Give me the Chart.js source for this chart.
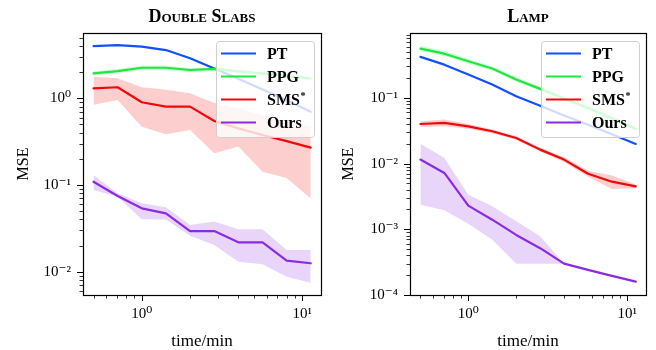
<!DOCTYPE html>
<html><head><meta charset="utf-8">
<script src="https://cdn.jsdelivr.net/npm/chart.js@4.4.1/dist/chart.umd.min.js"></script>
<style>
html,body{margin:0;padding:0;background:#fff;}
#wrap{position:relative;width:656px;height:350px;overflow:hidden;}
canvas{position:absolute;top:0;}
</style></head><body>
<div id="wrap">
<canvas id="c1" width="330" height="350" style="left:0px"></canvas>
<canvas id="c2" width="326" height="350" style="left:330px"></canvas>
</div>
<script>
// ---------- data ----------
const times = [0.5, 0.707, 1, 1.414, 2, 2.83, 4, 5.66, 8, 11.3];
const methods = ['PT', 'PPG', 'SMS*', 'Ours'];
const colors = ['#1050ff', '#1ee83e', '#ee0a0a', '#8a2be2'];
const titles = ['Double Slabs', 'Lamp'];
const xMajorTicks = [1, 10];
const slabsMajorTicks = [0.01, 0.1, 1];
const lampMajorTicks = [0.0001, 0.001, 0.01, 0.1];

// Double Slabs
const slabsPT        = [4.0, 4.1, 3.95, 3.6, 2.9, 2.2, 1.68, 1.26, 0.95, 0.70];
const slabsPPG       = [1.94, 2.06, 2.25, 2.25, 2.12, 2.18, 2.04, 1.93, 1.81, 1.69];
const slabsPPGUpper  = [2.05, 2.18, 2.38, 2.38, 2.24, 2.30, 2.15, 2.03, 1.90, 1.77];
const slabsPPGLower  = [1.84, 1.96, 2.13, 2.13, 2.01, 2.07, 1.94, 1.84, 1.73, 1.62];
const slabsSMS       = [1.30, 1.34, 0.90, 0.80, 0.80, 0.547, 0.449, 0.377, 0.32, 0.27];
const slabsSMSUpper  = [1.77, 1.70, 1.34, 1.25, 1.14, 0.88, 0.76, 0.64, 0.55, 0.47];
const slabsSMSLower  = [0.84, 0.955, 0.47, 0.385, 0.43, 0.232, 0.277, 0.142, 0.12, 0.070];
const slabsOurs      = [0.109, 0.0746, 0.0538, 0.0471, 0.0294, 0.0294, 0.0218, 0.0218, 0.0134, 0.0125];
const slabsOursUpper = [0.130, 0.080, 0.0615, 0.0553, 0.0346, 0.0378, 0.0308, 0.0308, 0.0178, 0.0178];
const slabsOursLower = [0.0875, 0.0733, 0.0402, 0.0400, 0.0260, 0.0203, 0.0130, 0.0122, 0.00875, 0.00746];

// Lamp
const lampPT        = [0.42, 0.32, 0.226, 0.16, 0.106, 0.076, 0.054, 0.039, 0.028, 0.0199];
const lampPPG       = [0.56, 0.47, 0.36, 0.28, 0.19, 0.137, 0.098, 0.070, 0.049, 0.0336];
const lampPPGUpper  = [0.62, 0.52, 0.39, 0.30, 0.205, 0.147, 0.106, 0.076, 0.053, 0.037];
const lampPPGLower  = [0.51, 0.43, 0.33, 0.26, 0.176, 0.128, 0.090, 0.064, 0.045, 0.031];
const lampSMS       = [0.040, 0.0416, 0.0369, 0.031, 0.0245, 0.0163, 0.0115, 0.0070, 0.0053, 0.0045];
const lampSMSUpper  = [0.044, 0.047, 0.040, 0.033, 0.026, 0.0175, 0.0125, 0.0078, 0.0066, 0.0048];
const lampSMSLower  = [0.036, 0.037, 0.034, 0.029, 0.023, 0.0152, 0.0106, 0.0063, 0.0041, 0.0042];
const lampOurs      = [0.0115, 0.0072, 0.00229, 0.0014, 0.00082, 0.000516, 0.00030, 0.000241, 0.000195, 0.00016];
const lampOursUpper = [0.0201, 0.0122, 0.00336, 0.00224, 0.00132, 0.00078, 0.00030, 0.000245, 0.00020, 0.000162];
const lampOursLower = [0.00237, 0.00194, 0.00121, 0.00069, 0.00030, 0.00030, 0.00030, 0.000237, 0.00019, 0.000158];

// ---------- helpers ----------
const FAMILY = "'Liberation Serif', 'DejaVu Serif', serif";
const SUP = {'-':'\u207B','0':'\u2070','1':'\u00B9','2':'\u00B2','3':'\u00B3','4':'\u2074','5':'\u2075','6':'\u2076','7':'\u2077','8':'\u2078','9':'\u2079'};
function supStr(n){ return String(n).split('').map(c => SUP[c]).join(''); }
function pts(arr){ return times.map((t, i) => ({x: t, y: arr[i]})); }
function rgba(hex, a){
  const n = parseInt(hex.slice(1), 16);
  return 'rgba(' + ((n >> 16) & 255) + ',' + ((n >> 8) & 255) + ',' + (n & 255) + ',' + a + ')';
}
function logTicks(min, max, majors){
  const out = [];
  for (let e = Math.floor(Math.log10(min)) - 1; e <= Math.ceil(Math.log10(max)); e++) {
    for (let k = 1; k <= 9; k++) {
      const v = k * Math.pow(10, e);
      if (v >= min * 0.9999 && v <= max * 1.0001) {
        const isMaj = majors.some(m => Math.abs(m - v) / m < 1e-6);
        out.push({value: v, dec: isMaj});
      }
    }
  }
  return out;
}
function fmt(value, index, ticks){
  if (!ticks[index] || !ticks[index].dec) return '';
  return '10' + supStr(Math.round(Math.log10(value)));
}

const framePlugin = {
  id: 'frame',
  afterDatasetsDraw(chart){
    // legend
    const ctx = chart.ctx, ca = chart.chartArea;
    const w = 98, h = 96;
    const bx = ca.right - 7 - w, by = ca.top + 8;
    ctx.save();
    ctx.beginPath();
    ctx.roundRect(bx + 0.5, by + 0.5, w, h, 3);
    ctx.fillStyle = 'rgba(255,255,255,0.8)';
    ctx.fill();
    ctx.strokeStyle = '#cfcfcf';
    ctx.lineWidth = 1;
    ctx.stroke();
    const lines = chart.data.datasets.filter(d => d.isLine);
    lines.forEach((d, i) => {
      const y = by + 12.5 + i * 23;
      ctx.beginPath();
      ctx.moveTo(bx + 5, y); ctx.lineTo(bx + 40, y);
      ctx.strokeStyle = d.borderColor; ctx.lineWidth = 2.2;
      ctx.stroke();
      ctx.fillStyle = '#000';
      ctx.textBaseline = 'middle';
      ctx.textAlign = 'left';
      ctx.font = 'bold 16px ' + FAMILY;
      let label = d.label;
      let star = false;
      if (label.endsWith('*')) { label = label.slice(0, -1); star = true; }
      ctx.fillText(label, bx + 51, y + 1);
      if (star) {
        const tw = ctx.measureText(label).width;
        ctx.font = 'bold 10px ' + FAMILY;
        ctx.fillText('*', bx + 51 + tw + 0.5, y - 3);
      }
    });
    ctx.restore();
  },
  afterDraw(chart){
    const ctx = chart.ctx, ca = chart.chartArea;
    ctx.save();
    ctx.strokeStyle = '#000';
    // tick marks
    const xs = chart.scales.x, ys = chart.scales.y;
    xs.ticks.forEach(t => {
      const p = Math.round(xs.getPixelForValue(t.value)) + 0.5;
      const len = t.dec ? 6 : 3.5;
      ctx.lineWidth = t.dec ? 1 : 0.8;
      ctx.beginPath(); ctx.moveTo(p, ca.bottom); ctx.lineTo(p, ca.bottom + len); ctx.stroke();
    });
    ys.ticks.forEach(t => {
      const p = Math.round(ys.getPixelForValue(t.value)) + 0.5;
      const len = t.dec ? 6 : 3.5;
      ctx.lineWidth = t.dec ? 1 : 0.8;
      ctx.beginPath(); ctx.moveTo(ca.left - len, p); ctx.lineTo(ca.left, p); ctx.stroke();
    });
    // frame
    ctx.lineWidth = 1.2;
    ctx.strokeRect(Math.round(ca.left) + 0.5, Math.round(ca.top) + 0.5,
                   Math.round(ca.right - ca.left), Math.round(ca.bottom - ca.top));
    ctx.restore();
  }
};

function makeChart(id, cfg){
  const ds = [];
  cfg.series.forEach((s, i) => {
    if (s.upper) {
      ds.push({label: '', data: pts(s.upper), borderColor: 'rgba(0,0,0,0)', borderWidth: 1, pointRadius: 0,
               fill: '+1', backgroundColor: rgba(colors[i], 0.2), order: 20 + i, tension: 0});
      ds.push({label: '', data: pts(s.lower), borderColor: 'rgba(0,0,0,0)', borderWidth: 1, pointRadius: 0,
               fill: false, order: 20 + i, tension: 0});
    }
  });
  cfg.series.forEach((s, i) => {
    ds.push({label: methods[i], data: pts(s.mean), borderColor: colors[i], borderWidth: 2.2, pointRadius: 0,
             fill: false, order: 4 - i, tension: 0, isLine: true, borderJoinStyle: 'round', borderCapStyle: 'round'});
  });
  const xMin = 0.43, xMax = 13.1;
  return new Chart(document.getElementById(id), {
    type: 'line',
    data: {datasets: ds},
    plugins: [framePlugin],
    options: {
      responsive: false, animation: false, devicePixelRatio: 1, events: [],
      layout: {padding: {left: cfg.padLeft, right: cfg.padRight, top: 0, bottom: 0}},
      plugins: {
        legend: {display: false}, tooltip: {enabled: false},
        title: {display: true, text: cfg.title, fullSize: false, color: '#000',
                font: {family: FAMILY, size: 18, weight: 'small-caps bold', lineHeight: 1.2},
                padding: {top: 7, bottom: 4.4}}
      },
      scales: {
        x: {
          type: 'logarithmic', min: xMin, max: xMax,
          afterBuildTicks: s => { s.ticks = logTicks(xMin, xMax, xMajorTicks); },
          afterFit: s => { s.height = 55; },
          grid: {display: false, drawTicks: false}, border: {display: false},
          ticks: {autoSkip: false, maxRotation: 0, padding: 10, color: '#000',
                  font: {family: FAMILY, size: 15}, callback: fmt},
          title: {display: true, text: 'time/min', color: '#000',
                  font: {family: FAMILY, size: 17, lineHeight: 1.0}, padding: {top: 0, bottom: 0}}
        },
        y: {
          type: 'logarithmic', min: cfg.yMin, max: cfg.yMax,
          afterBuildTicks: s => { s.ticks = logTicks(cfg.yMin, cfg.yMax, cfg.yMajor); },
          afterFit: s => { s.width = cfg.yWidth; },
          grid: {display: false, drawTicks: false}, border: {display: false},
          ticks: {autoSkip: false, padding: 12, color: '#000',
                  font: {family: FAMILY, size: 15}, callback: fmt},
          title: {display: true, text: 'MSE', color: '#000',
                  font: {family: FAMILY, size: 16}, padding: {top: cfg.titlePad, bottom: 0}}
        }
      }
    }
  });
}

makeChart('c1', {
  title: titles[0], yMin: 0.00538, yMax: 5.66, yMajor: slabsMajorTicks,
  padLeft: 8, padRight: 9, yWidth: 75, titlePad: 6,
  series: [
    {mean: slabsPT},
    {mean: slabsPPG, upper: slabsPPGUpper, lower: slabsPPGLower},
    {mean: slabsSMS, upper: slabsSMSUpper, lower: slabsSMSLower},
    {mean: slabsOurs, upper: slabsOursUpper, lower: slabsOursLower}
  ]
});
makeChart('c2', {
  title: titles[1], yMin: 0.0001, yMax: 0.97, yMajor: lampMajorTicks,
  padLeft: 4, padRight: 10, yWidth: 76, titlePad: 5.4,
  series: [
    {mean: lampPT},
    {mean: lampPPG, upper: lampPPGUpper, lower: lampPPGLower},
    {mean: lampSMS, upper: lampSMSUpper, lower: lampSMSLower},
    {mean: lampOurs, upper: lampOursUpper, lower: lampOursLower}
  ]
});
</script>
</body></html>
